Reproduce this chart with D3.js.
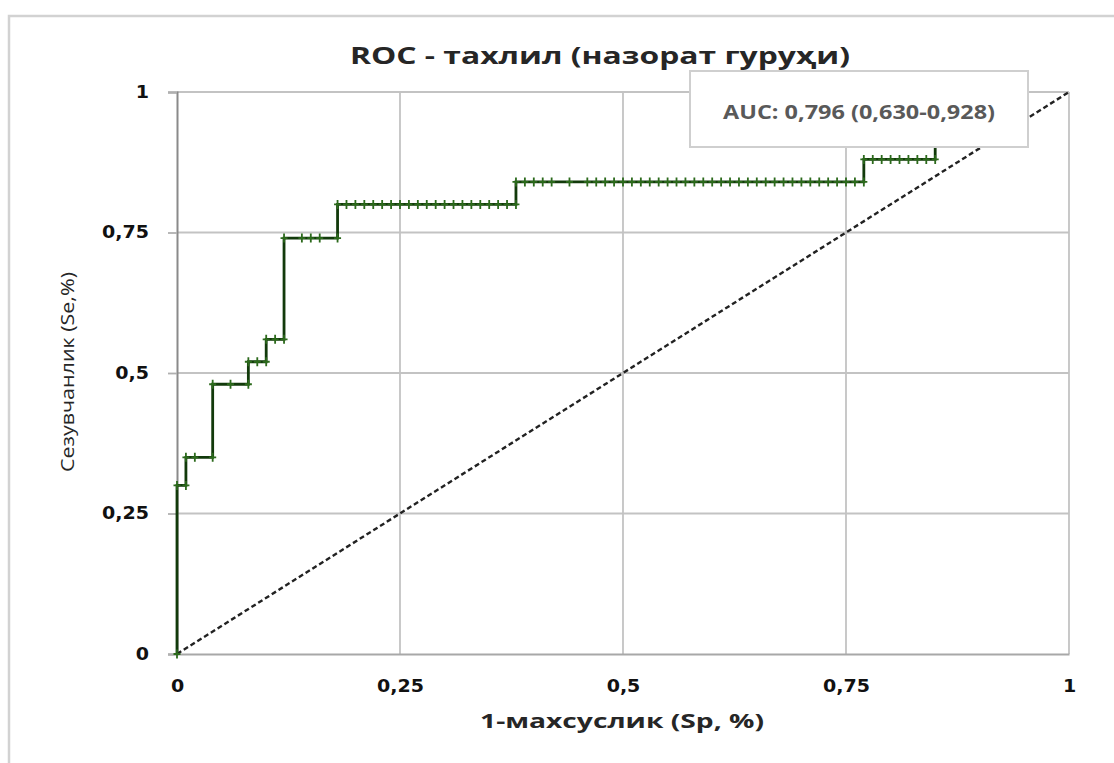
<!DOCTYPE html>
<html>
<head>
<meta charset="utf-8">
<script src="https://cdn.jsdelivr.net/npm/d3@7"></script>
<style>
  html, body { margin: 0; padding: 0; background: #fff; }
  svg { display: block; }
</style>
</head>
<body>
<script>
// ROC curve data: one sensitivity level per plateau, with the 1-specificity
// points (markers) for that plateau
const sensitivity = [0, 0.30, 0.35, 0.48, 0.52, 0.56, 0.74, 0.80, 0.84, 0.88, 0.92, 1.00]
const falsePositive = [
  [0],
  [0, 0.01],
  [0.01, 0.02, 0.04],
  [0.04, 0.06, 0.08],
  [0.08, 0.09, 0.10],
  [0.10, 0.11, 0.12],
  [0.12, 0.14, 0.15, 0.16, 0.18],
  [0.18, 0.19, 0.20, 0.21, 0.22, 0.23, 0.24, 0.25, 0.26, 0.27, 0.28,
    0.29, 0.30, 0.31, 0.32, 0.33, 0.34, 0.35, 0.36, 0.37, 0.38],
  [0.38, 0.39, 0.40, 0.41, 0.42, 0.44, 0.46, 0.47, 0.48, 0.49, 0.50,
    0.51, 0.52, 0.53, 0.54, 0.55, 0.56, 0.57, 0.58, 0.59, 0.60, 0.61,
    0.62, 0.63, 0.64, 0.65, 0.66, 0.67, 0.68, 0.69, 0.70, 0.71, 0.72,
    0.73, 0.74, 0.75, 0.76, 0.77],
  [0.77, 0.78, 0.79, 0.80, 0.81, 0.82, 0.83, 0.84, 0.85],
  [0.85, 0.90],
  [0.90]
]
const reference = [0, 1]
const xTicks = [0, 0.25, 0.5, 0.75, 1]
const yTicks = [0, 0.25, 0.5, 0.75, 1]

const title = 'ROC - тахлил (назорат гуруҳи)'
const xTitle = '1-махсуслик (Sp, %)'
const yTitle = 'Сезувчанлик (Se,%)'
const aucText = 'AUC: 0,796 (0,630-0,928)'

const width = 1114
const height = 763
const plot = { left: 177, right: 1069, top: 92, bottom: 654 }

const x = d3.scaleLinear().domain([0, 1]).range([plot.left, plot.right])
const y = d3.scaleLinear().domain([0, 1]).range([plot.bottom, plot.top])
const fmt = d => String(d).replace('.', ',')

const svg = d3.select('body').append('svg')
  .attr('width', width)
  .attr('height', height)

// outer frame (only top and left edges show)
svg.append('path')
  .attr('d', `M9,${height} V16 H${width}`)
  .attr('fill', 'none')
  .attr('stroke', '#d2d2d2')
  .attr('stroke-width', 2.5)

// gridlines
const grid = svg.append('g').attr('class', 'grid')
grid.selectAll('line.h')
  .data(yTicks.filter(d => d > 0))
  .enter().append('line')
  .attr('class', 'h')
  .attr('x1', plot.left).attr('x2', plot.right)
  .attr('y1', d => y(d)).attr('y2', d => y(d))
grid.selectAll('line.v')
  .data(xTicks.filter(d => d > 0))
  .enter().append('line')
  .attr('class', 'v')
  .attr('x1', d => x(d)).attr('x2', d => x(d))
  .attr('y1', plot.top).attr('y2', plot.bottom)
grid.selectAll('line')
  .attr('stroke', '#c3c3c3')
  .attr('stroke-width', 1.8)

// axes
const yAxis = svg.append('g')
  .attr('transform', `translate(${plot.left},0)`)
  .call(d3.axisLeft(y).tickValues(yTicks).tickFormat(fmt).tickSize(9).tickPadding(19))
yAxis.select('.domain').attr('stroke', '#8a8a8a').attr('stroke-width', 2)
yAxis.selectAll('.tick line').attr('stroke', '#b0b0b0').attr('stroke-width', 1.8)

const xAxis = svg.append('g')
  .attr('transform', `translate(0,${plot.bottom})`)
  .call(d3.axisBottom(x).tickValues(xTicks).tickFormat(fmt).tickSize(0).tickPadding(26))
xAxis.select('.domain').attr('stroke', '#a8a8a8').attr('stroke-width', 2)

svg.selectAll('.tick text')
  .attr('font-family', 'DejaVu Sans')
  .attr('font-weight', 'bold')
  .attr('font-size', 17)
  .attr('fill', '#111')

// diagonal reference line
svg.append('path')
  .datum(reference)
  .attr('d', d3.line().x(d => x(d)).y(d => y(d)))
  .attr('fill', 'none')
  .attr('stroke', '#222')
  .attr('stroke-width', 2.4)
  .attr('stroke-dasharray', '5,3')

// ROC step curve
const points = sensitivity.flatMap((se, i) => falsePositive[i].map(fp => [fp, se]))
svg.append('path')
  .datum(points)
  .attr('d', d3.line().x(d => x(d[0])).y(d => y(d[1])))
  .attr('fill', 'none')
  .attr('stroke', '#123a0b')
  .attr('stroke-width', 2.8)

svg.append('g')
  .selectAll('path')
  .data(points)
  .enter().append('path')
  .attr('transform', d => `translate(${x(d[0])},${y(d[1])})`)
  .attr('d', 'M-3.5,0H3.5M0,-4.5V4.5')
  .attr('stroke', '#2c6a1c')
  .attr('stroke-width', 1.8)

// AUC box
svg.append('rect')
  .attr('x', 690).attr('y', 71)
  .attr('width', 338).attr('height', 76)
  .attr('fill', '#fff')
  .attr('stroke', '#cfcfcf')
  .attr('stroke-width', 2)

// text widths measured on the picture (it is widened horizontally)
const fitted = (sel, w) => sel.attr('textLength', w).attr('lengthAdjust', 'spacingAndGlyphs')

fitted(svg.append('text')
  .attr('x', 859).attr('y', 119)
  .attr('text-anchor', 'middle')
  .attr('font-family', 'Open Sans')
  .attr('font-weight', 'bold')
  .attr('font-size', 19)
  .attr('fill', '#595959')
  .text(aucText), 272)

// titles
fitted(svg.append('text')
  .attr('x', 600).attr('y', 64)
  .attr('text-anchor', 'middle')
  .attr('font-family', 'Open Sans')
  .attr('font-weight', 'bold')
  .attr('font-size', 23)
  .attr('fill', '#262626')
  .text(title), 500)

fitted(svg.append('text')
  .attr('x', 622).attr('y', 728)
  .attr('text-anchor', 'middle')
  .attr('font-family', 'Open Sans')
  .attr('font-weight', 'bold')
  .attr('font-size', 19)
  .attr('fill', '#262626')
  .text(xTitle), 284)

fitted(svg.append('text')
  .attr('transform', 'translate(74,372) rotate(-90)')
  .attr('text-anchor', 'middle')
  .attr('font-family', 'Open Sans')
  .attr('font-size', 19)
  .attr('fill', '#262626')
  .text(yTitle), 200)

// widen tick labels a little, as in the source
svg.selectAll('.tick text').each(function () {
  fitted(d3.select(this), this.getComputedTextLength() * 1.12)
})
</script>
</body>
</html>
